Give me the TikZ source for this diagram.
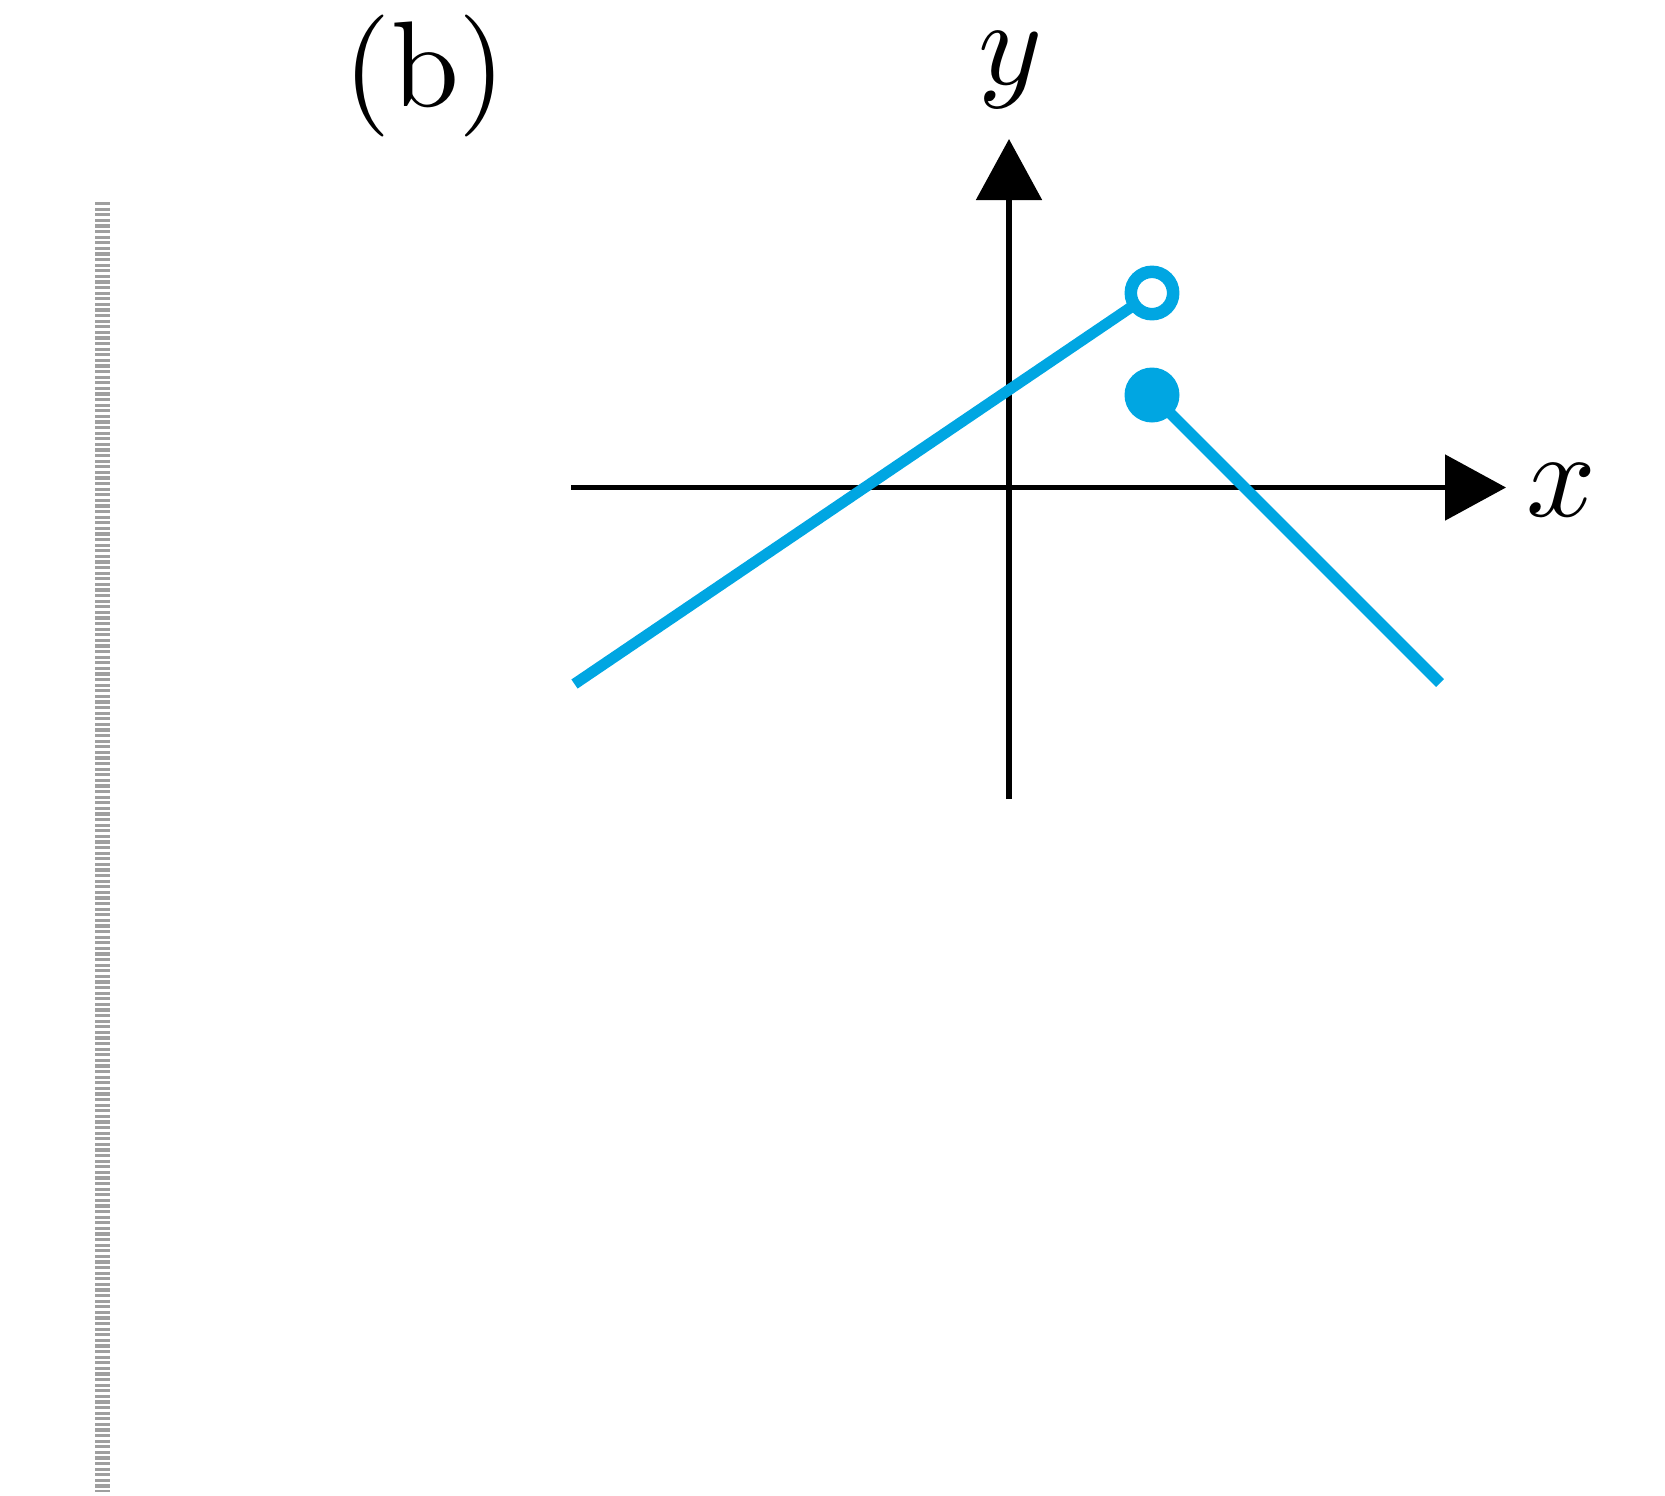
\documentclass[tikz,border=0pt]{standalone}
\usepackage{amsmath,amssymb}
\usepackage{tikz}
\usetikzlibrary{arrows.meta}

\definecolor{graphblue}{RGB}{0,166,226}
\newcommand{\bigtxt}[1]{\scalebox{6.1}{#1}}

\begin{document}
\begin{tikzpicture}[x=0.5pt,y=-0.5pt,
  axis/.style={line width=2.65pt,-{Triangle[length=30.5pt,width=32.5pt]}},
  graph/.style={line width=5.5pt,graphblue}]

\useasboundingbox (0,0) rectangle (1665,1495);

% Separator bar on the left
\draw[line width=7.5pt,gray!75,dash pattern=on 1.6pt off 1.2pt] (102.5,202)--(102.5,1492);

% Panel label
\node (panel) at (425,76){\bigtxt{(b)}};

% Axes
\coordinate (xstart) at (571,487.5);
\coordinate (xend) at (1506,487.5);
\coordinate (ystart) at (1009,799);
\coordinate (yend) at (1009,139);
\draw[axis] (xstart)--(xend);
\draw[axis] (ystart)--(yend);
\node (xlabel) at (1561,490){\bigtxt{$x$}};
\node (ylabel) at (1011,70){\bigtxt{$y$}};

% Graph pieces
\coordinate (leftend) at (574.5,684);
\coordinate (opendot) at (1152,293);
\coordinate (closeddot) at (1152,395);
\coordinate (rightend) at (1440,683);
\draw[graph] (leftend)--(opendot);
\draw[graph] (closeddot)--(rightend);

% End points
\draw[graphblue,line width=6.25pt,fill=white] (opendot) circle[radius=10.6pt];
\fill[graphblue] (closeddot) circle[radius=13.75pt];

\end{tikzpicture}
\end{document}
